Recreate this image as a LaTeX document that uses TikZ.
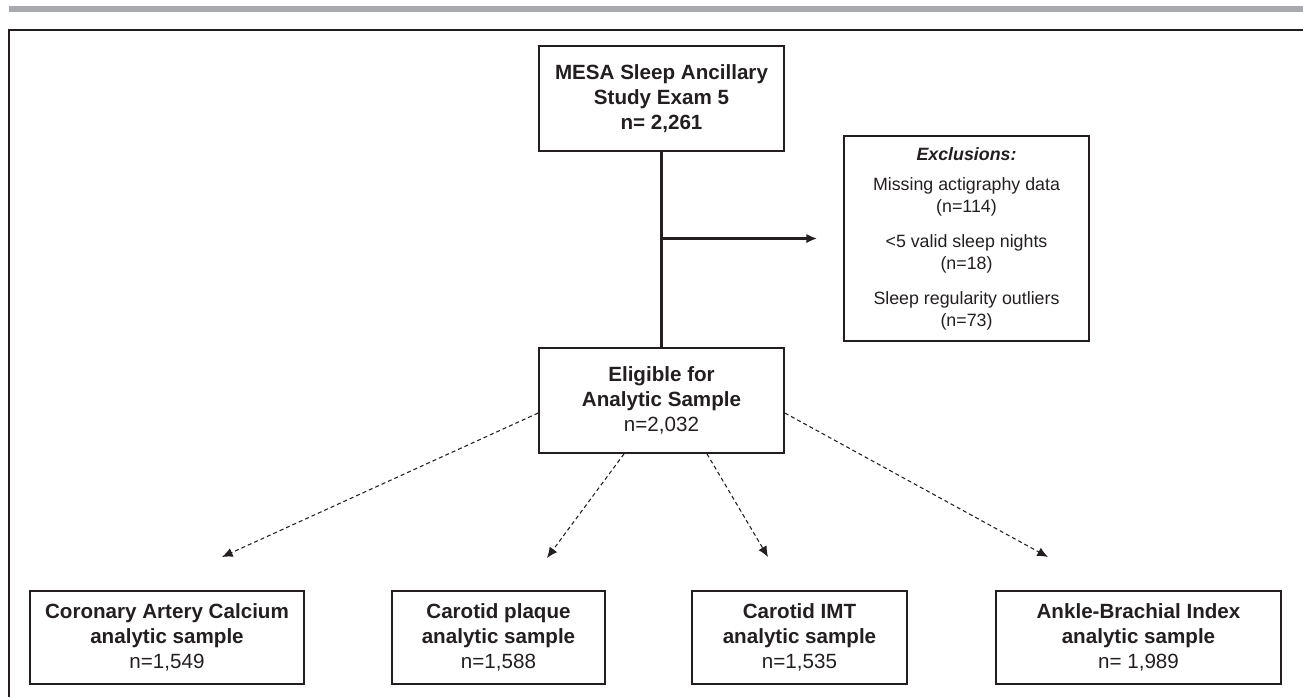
\documentclass[tikz,border=0pt]{standalone}
\usepackage{fontspec}
\setmainfont{Liberation Sans}
\usetikzlibrary{arrows.meta,positioning}
\definecolor{ink}{HTML}{231F20}
\definecolor{rulegray}{HTML}{A7A9AC}
\newcommand\boxfont{\fontsize{15.45pt}{18.75pt}\selectfont}
\newcommand\exclfont{\fontsize{13.35pt}{16.5pt}\selectfont}
\tikzset
{
    studybox/.style   = {rectangle, draw=ink, line width=1.3pt, text=ink, align=center, font=\boxfont, minimum width=183.75pt, minimum height=78.75pt, inner sep=0pt},
    samplebox/.style  = {studybox, minimum width=#1, minimum height=69.75pt},
    exclbox/.style    = {studybox, font=\exclfont, minimum height=153.75pt},
    trunk/.style      = {draw=ink, line width=2.2pt},
    trunkarrow/.style = {trunk, -{Latex[length=8pt, width=7pt]}},
    samplearrow/.style = {draw=ink, line width=0.8pt, dash pattern=on 3pt off 2.25pt, -{Latex[length=8pt, width=7pt]}}
}

\begin{document}
\begin{tikzpicture}[x=0.75pt, y=-0.75pt]
   \useasboundingbox (0,0) rectangle (1303,697);

   % header rule and frame
   \fill[rulegray] (9,6) rectangle (1303,12);
   \draw[ink, line width=1.5pt] (9,697) -- (9,30) -- (1303,30);

   \node (mesa)   [studybox, font=\boxfont\bfseries] at (661.5, 98.5)  {MESA Sleep Ancillary\\ Study Exam 5\\ n= 2,261};
   \node (elig)   [studybox]                         at (661.5, 400.5) {\textbf{Eligible for}\\ \textbf{Analytic Sample}\\ n=2,032};
   \node (excl)   [exclbox]                          at (966.5, 238.5) {\textbf{\textit{Exclusions:}}\\[6pt]
                                                                        Missing actigraphy data\\ (n=114)\\[9.75pt]
                                                                        <5 valid sleep nights\\ (n=18)\\[9.75pt]
                                                                        Sleep regularity outliers\\ (n=73)};

   \node (cac)    [samplebox=205.5pt]  at (167, 637.5)    {\textbf{Coronary Artery Calcium}\\ \textbf{analytic sample}\\ n=1,549};
   \node (plaque) [samplebox=159.75pt] at (498.5, 637.5)  {\textbf{Carotid plaque}\\ \textbf{analytic sample}\\ n=1,588};
   \node (imt)    [samplebox=161.25pt] at (799.5, 637.5)  {\textbf{Carotid IMT}\\ \textbf{analytic sample}\\ n=1,535};
   \node (abi)    [samplebox=213.75pt] at (1138.5, 637.5) {\textbf{Ankle-Brachial Index}\\ \textbf{analytic sample}\\ n= 1,989};

   \coordinate (branch)    at (mesa.south |- excl.west);
   \coordinate (exclend)   at ([xshift=-19.5pt]excl.west);
   \coordinate (cacend)    at (222, 557);
   \coordinate (plaqueend) at (547, 558);
   \coordinate (imtend)    at (768, 557);
   \coordinate (abiend)    at (1048, 557);

   \path
      (mesa)                         edge[trunk]       (elig)
      (branch)                       edge[trunkarrow]  (exclend)
      ([yshift=-9.4pt]elig.west)     edge[samplearrow] (cacend)
      ([xshift=-28.1pt]elig.south)   edge[samplearrow] (plaqueend)
      ([xshift=34.1pt]elig.south)    edge[samplearrow] (imtend)
      ([yshift=-9.4pt]elig.east)     edge[samplearrow] (abiend);
\end{tikzpicture}
\end{document}
